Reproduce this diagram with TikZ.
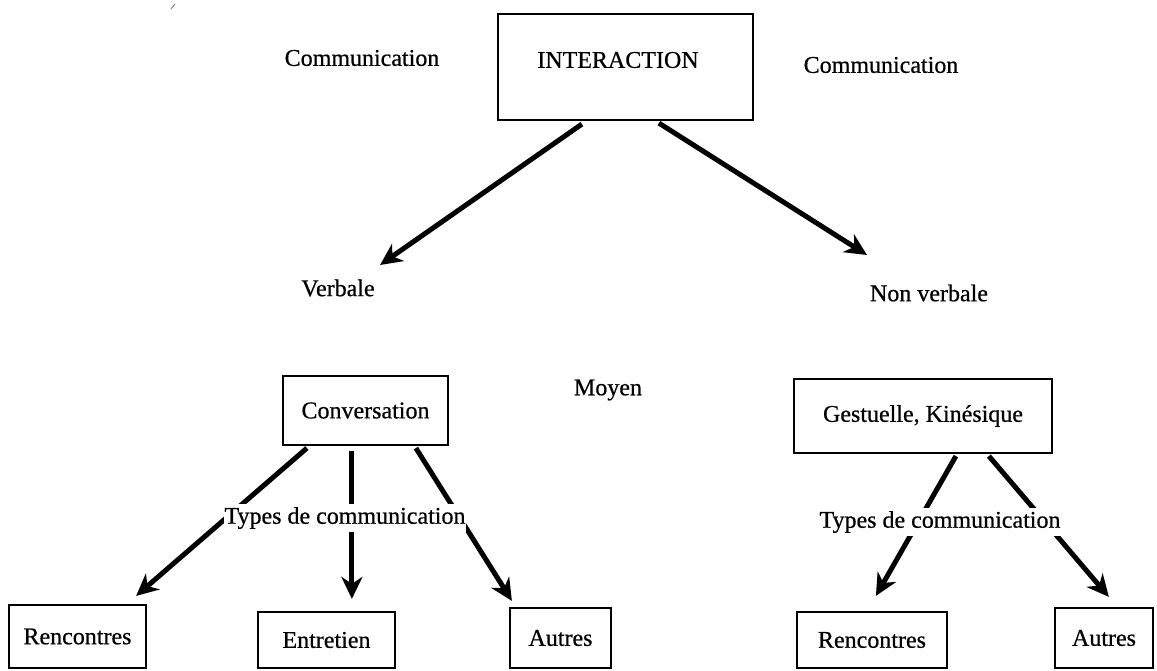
\documentclass[tikz,border=0pt]{standalone}
\usepackage{fontspec}
\setmainfont{Liberation Serif}[FakeBold=0.6]
\usetikzlibrary{arrows.meta,calc}
\begin{document}
\begin{tikzpicture}[x=1pt,y=-1pt,
  txt/.style={inner sep=0pt, font=\fontsize{24}{28}\selectfont},
  box/.style 2 args={draw, line width=2.2pt, inner sep=0pt,
    minimum width=#1, minimum height=#2, font=\fontsize{24}{28}\selectfont},
  types/.style={fill=white, inner xsep=1pt, inner ysep=3pt, font=\fontsize{24}{28}\selectfont},
  arr/.style={line width=5pt, -{Stealth[length=22pt, width=21pt, inset=7pt]}}
]
\useasboundingbox (0,0) rectangle (1157,671);

% top level: frame and its title
\node[box={255pt}{106pt}] (inter) at (625.5,67) {};
\node[txt] (intertitle) at (618,60) {INTERACTION};
\node[txt] (comL) at (362,58) {Communication};
\node[txt] (comR) at (881,65) {Communication};

% second level
\node[txt] (verb) at (338,288) {Verbale};
\node[txt] (nonv) at (929,293) {Non verbale};
\node[txt] (moyen) at (608,390) {Moyen};

% means
\node[box={165pt}{69pt}] (conv) at (365.5,410.5) {Conversation};
\node[box={258pt}{74pt}] (gest) at (923,416) {Gestuelle, Kinésique};

% leaves
\node[box={137pt}{63pt}] (renc1) at (77.5,636.5) {Rencontres};
\node[box={137pt}{56pt}] (entr) at (326.5,640) {Entretien};
\node[box={101pt}{60pt}] (autr1) at (560.5,638) {Autres};
\node[box={150pt}{56pt}] (renc2) at (872,640) {Rencontres};
\node[box={98pt}{60pt}] (autr2) at (1104,638) {Autres};

% connectors
\draw[arr] ($(inter.south west)+(85,3)$) -- ($(verb.center)+(42,-23)$);
\draw[arr] ($(inter.south west)+(162,2)$) -- ($(nonv.center)+(-62,-38)$);

\draw[arr] ($(conv.south west)+(25,2)$) -- ($(renc1.north east)+(-11,-8)$);
\draw[arr] ($(conv.south west)+(70,5)$) -- ($(entr.north west)+(95,-12)$);
\draw[arr] ($(conv.south west)+(134,2)$) -- ($(autr1.north west)+(3,-6)$);

\draw[arr] ($(gest.south west)+(163,2)$) -- ($(renc2.north west)+(80,-15)$);
\draw[arr] ($(gest.south west)+(196,2)$) -- ($(autr2.north west)+(55,-10)$);

% labels laid over the connectors
\node[types] (typ1) at (345,518) {Types de communication};
\node[types] (typ2) at (940,522) {Types de communication};

% small pen mark
\draw[line width=1pt, gray] (171,9) -- (175,4);
\end{tikzpicture}
\end{document}
